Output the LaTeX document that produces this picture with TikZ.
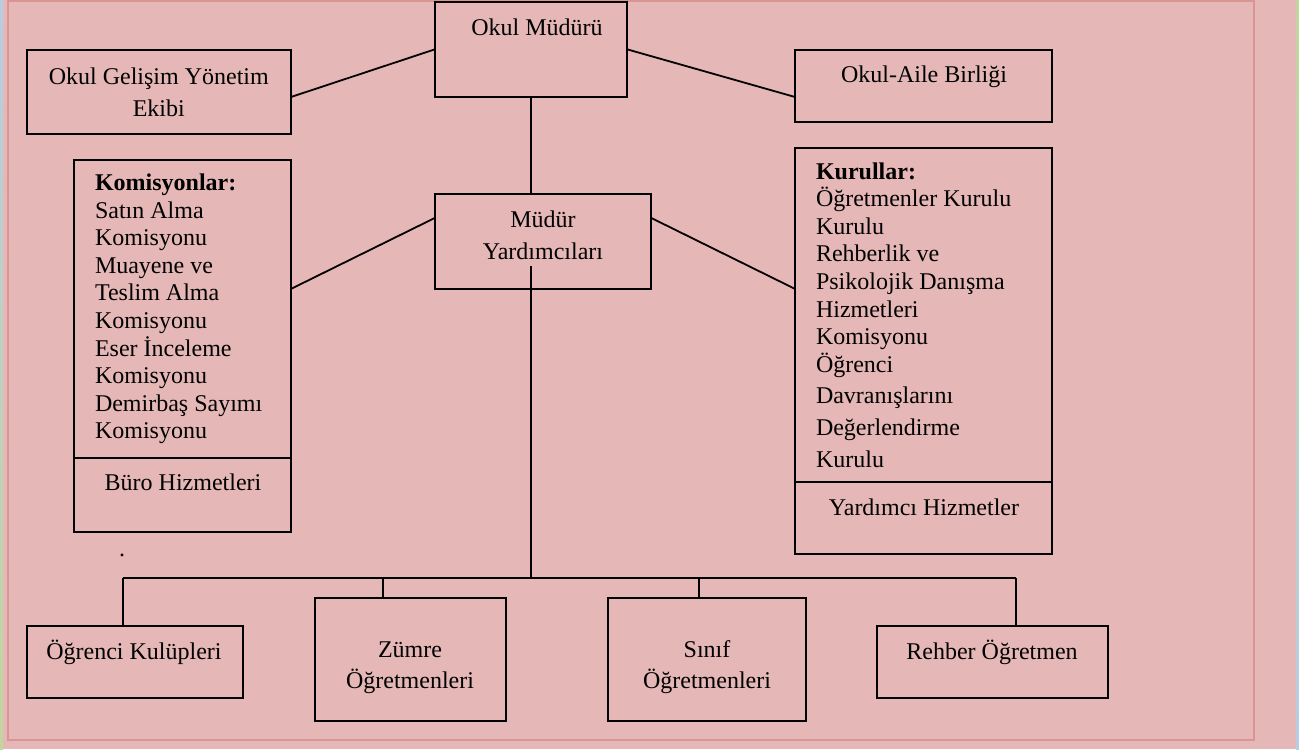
\documentclass[tikz,border=0pt]{standalone}
\usepackage{fontspec}
\setmainfont{Liberation Serif}
\usetikzlibrary{positioning, calc}
\definecolor{pagepink}{HTML}{E5B8B7}
\definecolor{framepink}{HTML}{D99594}
\definecolor{edgeblue}{HTML}{B8CCE4}
\definecolor{edgegreen}{HTML}{C2D69B}

\begin{document}
\begin{tikzpicture}[
  x=0.5pt, y=-0.5pt,
  font=\fontsize{12pt}{13.8pt}\selectfont,
  box/.style ={draw, line width=1pt, inner sep=0pt, outer sep=0pt},
  list/.style={box, align=left, inner xsep=10.5pt,
               execute at begin node={\spaceskip=0pt\relax}},
  txt/.style ={inner sep=0pt, anchor=base, align=center},
  link/.style={line width=0.9pt},
  node distance=0pt,
]
% page and frame
\fill[pagepink] (0,0) rectangle (1299,749);
\shade[top color=edgeblue, bottom color=edgegreen] (0,0) rectangle (3,749);
\shade[top color=edgegreen, bottom color=edgeblue] (1296,0) rectangle (1299,749);
\draw[framepink, line width=1pt] (8,1) rectangle (1254,740);
\useasboundingbox (0,0) rectangle (1299,749);

% top row
\node[box, minimum width=96pt, minimum height=47.7pt] (mudur) at (531,49.3) {};
\node[txt] (mudur-t) at (537,35.3) {Okul Müdürü};
\node[box, align=center, minimum width=132.2pt, minimum height=42pt] (ekip) at (158.8,92)
  {Okul Gelişim Yönetim\\[2.4pt] Ekibi};
\node[box, minimum width=128.5pt, minimum height=36pt] (aile) at (923.5,86) {};
\node[txt] (aile-t) at (924,82.6) {Okul-Aile Birliği};

% middle
\node[box, minimum width=108.3pt, minimum height=47.5pt] (yard) at (543,241.5) {};
\node[txt, anchor=center] (yard-t) at (543,235) {Müdür\\[2.2pt]Yardımcıları};

\node[list, text width=87.5pt, minimum height=148.8pt] (kom) at (182.5,308.9)
  {\textbf{Komisyonlar:}\\ Satın Alma\\ Komisyonu\\ Muayene ve\\ Teslim Alma\\ Komisyonu\\
   Eser İnceleme\\ Komisyonu\\ Demirbaş Sayımı\\ Komisyonu};
\node[box, minimum width=108.5pt, minimum height=37.2pt, below=of kom] (buro) {};
\node[txt] (buro-t) at (183,490.6) {Büro Hizmetleri};

\node[list, text width=107.5pt, minimum height=166.8pt] (kurul) at (923.5,314.9)
  {\textbf{Kurullar:}\\ Öğretmenler Kurulu\\ Kurulu\\ Rehberlik ve\\ Psikolojik Danışma\\
   Hizmetleri\\ Komisyonu\\ Öğrenci\\[2pt] Davranışlarını\\[2pt] Değerlendirme\\[2pt] Kurulu};
\node[box, minimum width=128.5pt, minimum height=36.2pt, below=of kurul] (yrd) {};
\node[txt] (yrd-t) at (924,515.3) {Yardımcı Hizmetler};

% bottom row
\node[box, minimum width=108.2pt, minimum height=36pt] (kulup) at (134.9,662) {};
\node[txt] (kulup-t) at (134,659.6) {Öğrenci Kulüpleri};
\node[box, minimum width=95.5pt, minimum height=61.5pt] (zumre) at (410.5,659.5) {};
\node[txt, anchor=center] (zumre-t) at (410,667.5) {Zümre\\[1.7pt]Öğretmenleri};
\node[box, minimum width=99pt, minimum height=61.5pt] (sinif) at (707,659.5) {};
\node[txt, anchor=center] (sinif-t) at (707,667.5) {Sınıf\\[1.7pt]Öğretmenleri};
\node[box, minimum width=115.5pt, minimum height=36pt] (rehber) at (992.5,662) {};
\node[txt] (rehber-t) at (992,659.6) {Rehber Öğretmen};

\node[txt] (dot) at (122,556) {.};

% connectors
\draw[link] ([yshift=-2.5pt]ekip.east) -- (mudur.west);
\draw[link] (mudur.east) -- ([yshift=-5.5pt]aile.west);
\draw[link] (mudur.south) -- (mudur.south |- yard.north);
\draw[link] ([yshift=10pt]kom.east) -- ([yshift=11.75pt]yard.west);
\draw[link] ([yshift=11.75pt]yard.east) -- ([yshift=13pt]kurul.west);

\coordinate (trunk) at (531,265.7);
\coordinate (hub) at (531,578);
\coordinate (b1) at (122.7,578);
\coordinate (b2) at (383,578);
\coordinate (b3) at (699,578);
\coordinate (b4) at (1016,578);
\draw[link] (trunk) -- (hub);
\draw[link] (b1) -- (b4);
\foreach \c/\n in {b1/kulup, b2/zumre, b3/sinif, b4/rehber}
  \draw[link] (\c) -- (\c |- \n.north);
\end{tikzpicture}
\end{document}
